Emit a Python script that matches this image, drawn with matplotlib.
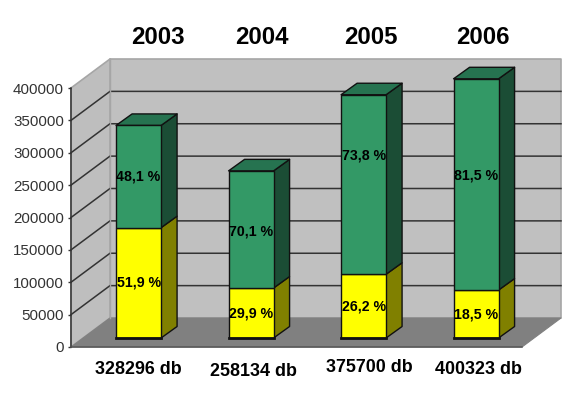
import matplotlib
matplotlib.use("Agg")
import matplotlib.pyplot as plt

plt.rcParams['font.family'] = ['Liberation Sans', 'DejaVu Sans']

years = ['2003', '2004', '2005', '2006']
totals = [328296, 258134, 375700, 400323]
yellow_pct = [51.9, 29.9, 26.2, 18.5]
green_pct = [48.1, 70.1, 73.8, 81.5]
total_labels = ['328296 db', '258134 db', '375700 db', '400323 db']
y_ticks = [0, 50000, 100000, 150000, 200000, 250000, 300000, 350000, 400000]

# layout (pixels)
W, H = 580, 400
X0, X1, Y0, Y400 = 71, 522, 347, 88
UX = (X1 - X0) / 4
UY = (Y0 - Y400) / 400000
DEPTH = (39 / UX, 29 / UY)
BAR_OFF = (11.2 / UX, 9 / UY)
BAR_D = (16 / UX, 11.5 / UY)
BAR_W = 45 / UX
SPACING = 112.5 / UX

title_px = [(158, 37), (262, 37), (371, 37), (483, 37)]
bottom_px = [(138, 369), (253, 371), (369, 368), (478, 370)]
green_label_shift = [0, -2, 29, 9]  # px above segment centre

fig = plt.figure(figsize=(W / 100, H / 100), dpi=100, facecolor='white')
ax = fig.add_axes([X0 / W, 1 - Y0 / H, (X1 - X0) / W, (Y0 - Y400) / H])
ax.set_xlim(0, 4)
ax.set_ylim(0, 400000)
ax.patch.set_visible(False)


def poly(xs, ys, fc, ec='none', lw=0.0, z=1):
    ax.fill(xs, ys, facecolor=fc, edgecolor=ec, linewidth=lw, zorder=z,
            clip_on=False, joinstyle='round')


dx, dy = DEPTH
top = 400000
# walls and floor
poly([dx, 4 + dx, 4 + dx, dx], [dy, dy, top + dy, top + dy], '#C0C0C0', '#A6A6A6', 1.2, 1)
poly([0, dx, dx, 0], [0, dy, top + dy, top], '#BEBEBE', '#A6A6A6', 1.2, 1)
poly([0, 4, 4 + dx, dx], [0, 0, dy, dy], '#808080', '#808080', 0.8, 1.5)

# gridlines
for v in y_ticks[1:-1]:
    ax.plot([0, dx, 4 + dx], [v, v + dy, v + dy], color='#333333', lw=1.1,
            zorder=2, clip_on=False, solid_joinstyle='miter')
ax.plot([dx, dx], [0 + dy, top + dy], color='#A6A6A6', lw=1.0, zorder=2, clip_on=False)

# bars
EC = '#111111'
for i, total in enumerate(totals):
    yv = total * yellow_pct[i] / 100
    xl = 0.5 + i * SPACING + BAR_OFF[0] - BAR_W / 2
    xr = xl + BAR_W
    b = BAR_OFF[1]
    ddx, ddy = BAR_D
    ax.bar(xl, yv, BAR_W, bottom=b, align='edge', color='#FFFF00', edgecolor=EC,
           linewidth=1.0, zorder=5, clip_on=False)
    ax.bar(xl, total - yv, BAR_W, bottom=b + yv, align='edge', color='#339966',
           edgecolor=EC, linewidth=1.0, zorder=5, clip_on=False)
    ax.plot([xl, xr], [b, b], color='#111111', lw=2, zorder=6, clip_on=False)
    poly([xr, xr + ddx, xr + ddx, xr], [b, b + ddy, b + yv + ddy, b + yv],
         '#808000', EC, 1.0, 4)
    poly([xr, xr + ddx, xr + ddx, xr], [b + yv, b + yv + ddy, b + total + ddy, b + total],
         '#1B4D35', EC, 1.0, 4)
    poly([xl, xr, xr + ddx, xl + ddx], [b + total, b + total, b + total + ddy, b + total + ddy],
         '#267350', EC, 1.0, 4)
    xc = (xl + xr) / 2
    ax.text(xc, b + yv / 2, f"{yellow_pct[i]:.1f} %".replace('.', ','), ha='center',
            va='center', fontsize=10.2, fontweight='bold', color='black', zorder=8)
    ax.text(xc, b + yv + (total - yv) / 2 + green_label_shift[i] / UY,
            f"{green_pct[i]:.1f} %".replace('.', ','), ha='center', va='center',
            fontsize=10.2, fontweight='bold', color='black', zorder=8)

# axes
for s in ['top', 'right']:
    ax.spines[s].set_visible(False)
ax.spines['left'].set_color('#333333')
ax.spines['left'].set_linewidth(1.1)
ax.spines['bottom'].set_color('#555555')
ax.spines['bottom'].set_linewidth(1.1)
ax.spines['left'].set_zorder(3)
ax.spines['bottom'].set_zorder(3)
ax.set_xticks([])
ax.set_yticks(y_ticks)
ax.set_yticklabels([str(v) for v in y_ticks], fontsize=10.9, color='#333333')
ax.tick_params(axis='y', length=2.2, width=1.0, color='#333333', pad=3)

for (x, y), t in zip(title_px, years):
    fig.text(x / W, 1 - y / H, t, ha='center', va='center', fontsize=17.3,
             fontweight='bold', color='black')
for (x, y), t in zip(bottom_px, total_labels):
    fig.text(x / W, 1 - y / H, t, ha='center', va='center', fontsize=12.9,
             fontweight='bold', color='black')

fig.savefig('out.png', dpi=100, facecolor='white')
